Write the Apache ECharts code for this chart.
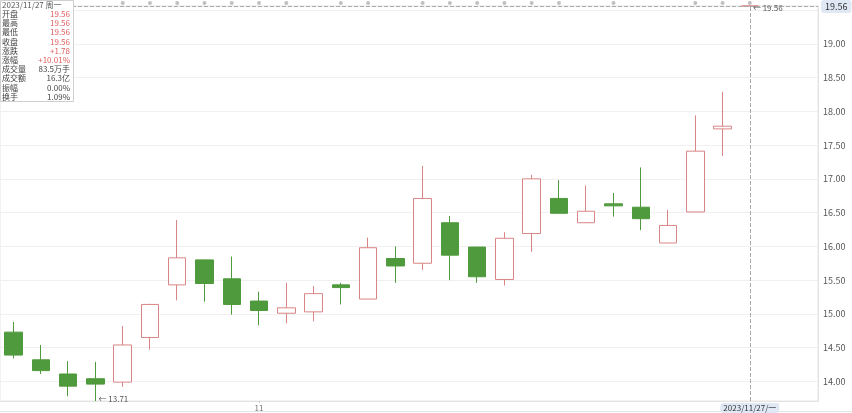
<!DOCTYPE html>
<html><head><meta charset="utf-8">
<script src="https://cdn.jsdelivr.net/npm/echarts@6/dist/echarts.min.js"></script>
<style>html,body{margin:0;padding:0;background:#fff}#c{width:852px;height:413px}</style>
</head><body><div id="c"></div>
<script>
// categories (trading days) + 2 empty padding slots
const dates = ['2023/10/19','2023/10/20','2023/10/23','2023/10/24','2023/10/25','2023/10/26','2023/10/27','2023/10/30','2023/10/31',
  '2023/11/01','2023/11/02','2023/11/03','2023/11/06','2023/11/07','2023/11/08','2023/11/09','2023/11/10','2023/11/13','2023/11/14',
  '2023/11/15','2023/11/16','2023/11/17','2023/11/20','2023/11/21','2023/11/22','2023/11/23','2023/11/24','2023/11/27','pad1','pad2'];
const opens  = [14.73,14.32,14.11,14.04,13.99,14.65,15.43,15.80,15.52,15.19,15.01,15.03,15.43,15.22,15.82,15.75,16.35,15.99,15.51,16.19,16.71,16.35,16.63,16.58,16.05,16.51,17.74,19.56];
const closes = [14.39,14.16,13.93,13.96,14.54,15.14,15.83,15.45,15.14,15.05,15.09,15.30,15.39,15.98,15.71,16.71,15.87,15.55,16.12,17.00,16.49,16.52,16.60,16.41,16.31,17.41,17.78,19.56];
const lows   = [14.34,14.11,13.78,13.71,13.92,14.47,15.20,15.18,14.99,14.83,14.86,14.89,15.14,15.22,15.46,15.65,15.50,15.46,15.42,15.92,16.49,16.35,16.44,16.24,16.05,16.51,17.34,19.56];
const highs  = [14.88,14.54,14.30,14.29,14.82,15.15,16.39,15.80,15.85,15.33,15.46,15.41,15.46,16.13,16.00,17.19,16.45,15.99,16.21,17.06,16.98,16.90,16.79,17.17,16.54,17.94,18.29,19.56];
const eventDays = [4,5,6,7,8,9,10,12,13,15,16,17,18,19,20,22,25,26,27];
const monthTicks = {9:'11'};
const yMin = 13.71, yMax = 19.56;
const infoLabels = ['开盘','最高','最低','收盘','涨跌','涨幅','成交量','成交额','振幅','换手'];
const infoValues = ['19.56','19.56','19.56','19.56','+1.78','+10.01%','83.5万手','16.3亿','0.00%','1.09%'];
const infoRed    = [true,true,true,true,true,true,false,false,false,false];
const infoTitle = '2023/11/27 周一';
const curIdx = 27, curPrice = 19.56, lowIdx = 3, lowPrice = 13.71;

const UP='#d98585', DOWN='#4f9a3c';
const FONT='"Noto Sans CJK SC", "Noto Sans", sans-serif';
const kdata = opens.map((o,i)=>[o, closes[i], lows[i], highs[i]]);

const g = [];
g.push({type:'rect', shape:{x:0.5,y:0.5,width:73,height:101}, style:{fill:'#fff', stroke:'#cfcfcf', lineWidth:1}, z:100});
g.push({type:'text', left:2, top:1, style:{text:infoTitle, font:'8px '+FONT, fill:'#555'}, z:101});
infoLabels.forEach((l,i)=>{
  const y = 10 + i*9.2;
  g.push({type:'text', left:2, top:y, style:{text:l, font:'8px '+FONT, fill:'#444'}, z:101});
  g.push({type:'text', right:852-70, top:y, style:{text:infoValues[i], font:'8px '+FONT, fill:infoRed[i]?'#e06060':'#444', textAlign:'right'}, z:101});
});
g.push({type:'line', shape:{x1:0,y1:411.5,x2:852,y2:411.5}, style:{stroke:'#e3e3e3', lineWidth:1}});

const chart = echarts.init(document.getElementById('c'));
chart.setOption({
  animation:false,
  textStyle:{fontFamily:FONT},
  axisPointer:{triggerOn:'none'},
  grid:{left:0, right:34, top:6, bottom:12, show:true, borderColor:'#e6e6e6', borderWidth:1},
  xAxis:{type:'category', data:dates, boundaryGap:true,
    axisLine:{lineStyle:{color:'#e3e3e3'}},
    axisTick:{show:true, alignWithLabel:true, length:2, interval:(i)=>monthTicks[i]!==undefined, lineStyle:{color:'#ccc'}},
    axisLabel:{interval:(i)=>monthTicks[i]!==undefined, formatter:(v,i)=>monthTicks[i]||'', color:'#777', fontSize:8, margin:3},
    splitLine:{show:false},
    axisPointer:{show:true, status:'show', value:curIdx, type:'line', snap:false, triggerTooltip:false,
      lineStyle:{color:'#aaa', type:'dashed', width:1},
      label:{show:true, formatter:()=>'2023/11/27/一', backgroundColor:'#dfe8f4', color:'#333', fontSize:8, padding:[1,3,1,3], margin:2}}
  },
  yAxis:{type:'value', position:'right', min:yMin, max:yMax, splitNumber:12,
    axisLine:{show:true, lineStyle:{color:'#e3e3e3'}}, axisTick:{show:false},
    axisLabel:{color:'#555', fontSize:9, margin:5, showMinLabel:false, showMaxLabel:false, formatter:(v)=>v.toFixed(2)},
    splitLine:{lineStyle:{color:'#f0f0f0'}},
    axisPointer:{show:true, status:'show', value:curPrice, type:'line', snap:false, triggerTooltip:false,
      lineStyle:{color:'#aaa', type:'dashed', width:1},
      label:{show:true, formatter:()=>curPrice.toFixed(2), backgroundColor:'#dfe8f4', color:'#333', fontSize:9, padding:[2,4,2,4]}}
  },
  series:[
    {type:'candlestick', data:kdata, barWidth:18,
      itemStyle:{color:'#fff', color0:DOWN, borderColor:UP, borderColor0:DOWN, borderWidth:1},
      markPoint:{symbol:'circle', symbolSize:0.1, silent:true,
        label:{show:true, position:'right', color:'#555', fontSize:8, distance:2},
        data:[
          {coord:[lowIdx, lowPrice], value:lowPrice, label:{formatter:'← '+lowPrice.toFixed(2), offset:[1,-2]}},
          {coord:[curIdx, curPrice], value:curPrice, label:{formatter:'← '+curPrice.toFixed(2), offset:[1,2]}}
        ]}
    },
    {type:'scatter', data:eventDays.map(i=>[i, yMax]), symbolSize:4, symbolOffset:[0,-3], clip:false, silent:true,
      itemStyle:{color:'#b0b0b0'}, z:5}
  ],
  graphic:g
});
</script></body></html>
